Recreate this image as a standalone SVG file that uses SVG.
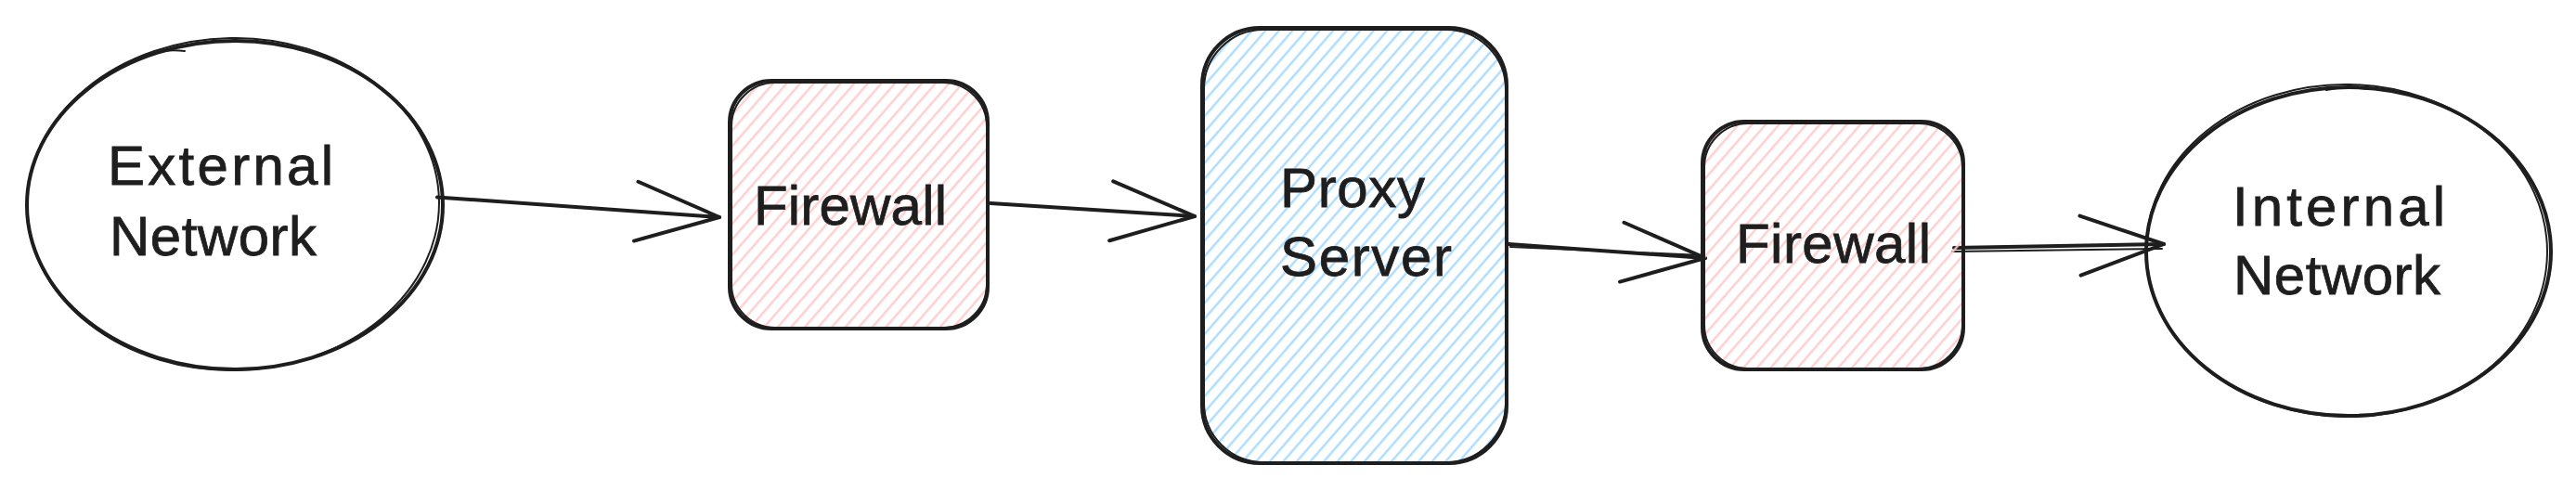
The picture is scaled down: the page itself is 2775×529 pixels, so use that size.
<svg xmlns="http://www.w3.org/2000/svg" width="2775" height="529" viewBox="0 0 2775 529">
<defs>
<style>
.sk{fill:none;stroke:#1e1e1e;stroke-width:4;stroke-linecap:round;stroke-linejoin:round}
.sk2{fill:none;stroke:#1e1e1e;stroke-width:2;stroke-linecap:round;stroke-linejoin:round}
.lbl{font-family:"Liberation Sans","DejaVu Sans",sans-serif;font-size:60px;fill:#1e1e1e;stroke:#1e1e1e;stroke-width:0.8}
.conn{fill:none;stroke:#1e1e1e;stroke-width:4;stroke-linecap:round;marker-end:url(#arrowhead)}
.conn2{fill:none;stroke:#1e1e1e;stroke-width:2;stroke-linecap:round}
</style>
<pattern id="hatchRed" patternUnits="userSpaceOnUse" width="11" height="11" patternTransform="rotate(41)">
<line x1="5.5" y1="-1" x2="5.5" y2="12" stroke="#ffc9c9" stroke-width="2.2"/>
</pattern>
<pattern id="hatchBlue" patternUnits="userSpaceOnUse" width="11" height="11" patternTransform="rotate(41)">
<line x1="5.5" y1="-1" x2="5.5" y2="12" stroke="#a5d8ff" stroke-width="2.2"/>
</pattern>
<marker id="arrowhead" markerUnits="userSpaceOnUse" markerWidth="120" markerHeight="120" refX="110" refY="60" orient="auto">
<path d="M20 28 L110 60 L20 92" fill="none" stroke="#1e1e1e" stroke-width="4" stroke-linecap="round" stroke-linejoin="round"/>
</marker>
</defs>
<rect width="2775" height="529" fill="#ffffff"/>

<g id="connectors">
<path class="conn" d="M471 212.5 L775 234"/>
<path class="conn" d="M1067 219 L1287 233"/>
<path class="conn" d="M1625 263 L1837 278"/>
<path class="conn2" d="M1627 266 L1834 275"/>
<path class="conn" d="M2105 267 L2331 263"/>
<path class="conn2" d="M2103 271 L2329 268"/>
</g>

<g id="external-network">
<ellipse class="sk" cx="253" cy="221" rx="224" ry="177"/>
<ellipse class="sk2" cx="251" cy="220" rx="222" ry="179" transform="rotate(-1 251 220)"/>
<path class="sk2" d="M153 61 Q175 52 199 55"/>
<text class="lbl" x="116" y="199" textLength="243" lengthAdjust="spacing">External</text>
<text class="lbl" x="118" y="275" textLength="223" lengthAdjust="spacing">Network</text>
</g>

<g id="firewall-1">
<rect x="786" y="87" width="278" height="267" rx="45" fill="url(#hatchRed)"/>
<rect class="sk" x="786" y="87" width="278" height="267" rx="45"/>
<rect class="sk2" x="788" y="89" width="275" height="264" rx="47"/>
<text class="lbl" x="812" y="242" textLength="208" lengthAdjust="spacing">Firewall</text>
</g>

<g id="proxy-server">
<rect x="1295" y="30" width="328" height="469" rx="62" fill="url(#hatchBlue)"/>
<rect class="sk" x="1295" y="30" width="328" height="469" rx="62"/>
<rect class="sk2" x="1297" y="32" width="325" height="466" rx="64"/>
<text class="lbl" x="1379" y="223" textLength="156" lengthAdjust="spacing">Proxy</text>
<text class="lbl" x="1379" y="297" textLength="185" lengthAdjust="spacing">Server</text>
</g>

<g id="firewall-2">
<rect x="1834" y="131" width="281" height="267" rx="45" fill="url(#hatchRed)"/>
<rect class="sk" x="1834" y="131" width="281" height="267" rx="45"/>
<rect class="sk2" x="1836" y="133" width="278" height="264" rx="47"/>
<text class="lbl" x="1870" y="283" textLength="210" lengthAdjust="spacing">Firewall</text>
</g>

<g id="internal-network">
<ellipse class="sk" cx="2530" cy="271" rx="218" ry="177"/>
<ellipse class="sk2" cx="2528" cy="270" rx="216" ry="179" transform="rotate(1 2528 270)"/>
<path class="sk2" d="M2506 97 Q2528 92 2550 96"/>
<text class="lbl" x="2405" y="243" textLength="229" lengthAdjust="spacing">Internal</text>
<text class="lbl" x="2406" y="317" textLength="223" lengthAdjust="spacing">Network</text>
</g>
</svg>
